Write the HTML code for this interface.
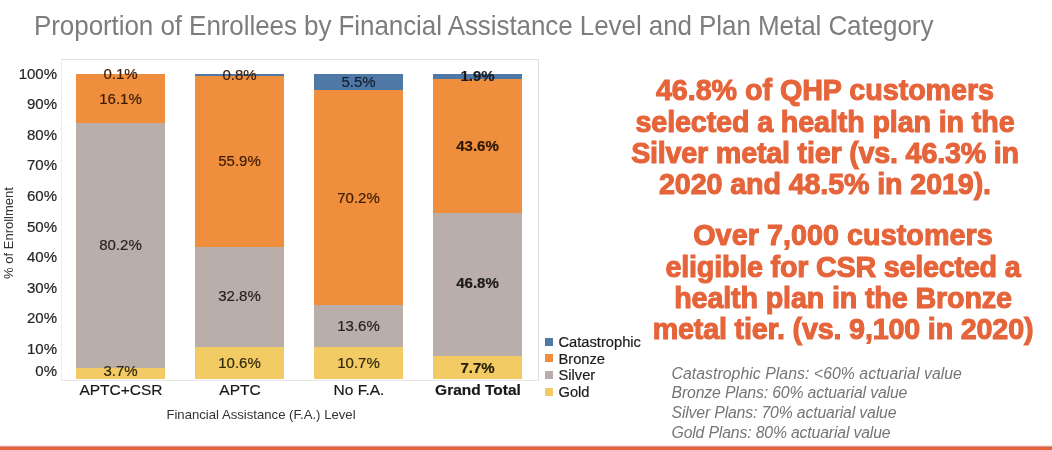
<!DOCTYPE html>
<html><head><meta charset="utf-8">
<style>
html,body{margin:0;padding:0;background:#fff;}
body{width:1052px;height:450px;position:relative;overflow:hidden;font-family:"Liberation Sans",sans-serif;}
.abs{position:absolute;white-space:nowrap;}
#title{left:34px;top:11px;font-size:26px;letter-spacing:-0.07px;color:#7d7d7d;line-height:30px;transform:scaleY(1.07);transform-origin:0 23.7px;}
.seg{position:absolute;}
.yl,.dl,.xl,.lg{-webkit-text-stroke:0.2px currentColor;}
.yl{position:absolute;right:0;font-size:15px;color:#262626;line-height:16px;text-align:right;}
.dl{position:absolute;font-size:15px;color:#1e1e1e;line-height:16px;text-align:center;width:89px;}
.xl{position:absolute;font-size:15.5px;color:#1a1a1a;line-height:16px;text-align:center;width:120px;}
.big{position:absolute;width:500px;text-align:center;font-weight:bold;color:#e5643a;font-size:30.4px;line-height:31.3px;white-space:nowrap;transform:scaleX(0.944);transform-origin:50% 0;-webkit-text-stroke:1.1px #e5643a;}
.big span{display:block;}
.note{position:absolute;left:671.5px;font-style:italic;color:#757575;font-size:15.8px;line-height:19.8px;white-space:nowrap;}
.lg{position:absolute;left:558.5px;font-size:14.7px;color:#1c1c1c;line-height:16px;}
.ls{position:absolute;left:544.5px;width:8px;height:8px;}
</style></head><body>
<div id="title" class="abs">Proportion of Enrollees by Financial Assistance Level and Plan Metal Category</div>

<!-- plot frame -->
<div class="seg" style="left:61px;top:59px;width:476px;height:320px;border:1px solid #dedede;border-left-color:#ececec;border-bottom-color:#e6e6e6;"></div>

<!-- y labels -->
<div style="position:absolute;left:0;top:0;width:57px;height:450px;">
<div class="yl" style="top:66px;">100%</div>
<div class="yl" style="top:96px;">90%</div>
<div class="yl" style="top:127px;">80%</div>
<div class="yl" style="top:157px;">70%</div>
<div class="yl" style="top:188px;">60%</div>
<div class="yl" style="top:219px;">50%</div>
<div class="yl" style="top:249px;">40%</div>
<div class="yl" style="top:280px;">30%</div>
<div class="yl" style="top:310px;">20%</div>
<div class="yl" style="top:341px;">10%</div>
<div class="yl" style="top:363px;">0%</div>
</div>
<div class="abs" style="left:-41px;top:227px;width:100px;text-align:center;font-size:13px;color:#333;transform:rotate(-90deg);line-height:12px;">% of Enrollment</div>

<!-- bar 1 -->
<div class="seg" style="left:76px;top:73.5px;width:89px;height:49.5px;background:#ef8e3c;"></div>
<div class="seg" style="left:76px;top:123px;width:89px;height:245.2px;background:#b9aeaa;"></div>
<div class="seg" style="left:76px;top:368.2px;width:89px;height:11.3px;background:#f2cb65;"></div>
<!-- bar 2 -->
<div class="seg" style="left:195px;top:73.5px;width:89px;height:2.5px;background:#4e79a7;"></div>
<div class="seg" style="left:195px;top:76px;width:89px;height:171px;background:#ef8e3c;"></div>
<div class="seg" style="left:195px;top:247px;width:89px;height:100.4px;background:#b9aeaa;"></div>
<div class="seg" style="left:195px;top:347.1px;width:89px;height:32.4px;background:#f2cb65;"></div>
<!-- bar 3 -->
<div class="seg" style="left:314px;top:73.5px;width:89px;height:16.8px;background:#4e79a7;"></div>
<div class="seg" style="left:314px;top:90.3px;width:89px;height:214.8px;background:#ef8e3c;"></div>
<div class="seg" style="left:314px;top:305.1px;width:89px;height:41.7px;background:#b9aeaa;"></div>
<div class="seg" style="left:314px;top:346.8px;width:89px;height:32.7px;background:#f2cb65;"></div>
<!-- bar 4 -->
<div class="seg" style="left:433px;top:73.5px;width:89px;height:5.8px;background:#4e79a7;"></div>
<div class="seg" style="left:433px;top:79.3px;width:89px;height:133.4px;background:#ef8e3c;"></div>
<div class="seg" style="left:433px;top:212.7px;width:89px;height:143.2px;background:#b9aeaa;"></div>
<div class="seg" style="left:433px;top:355.9px;width:89px;height:23.6px;background:#f2cb65;"></div>

<!-- data labels -->
<div class="dl" style="left:76px;top:66px;color:#3d1c05;">0.1%</div>
<div class="dl" style="left:76px;top:91px;color:#3d1c05;">16.1%</div>
<div class="dl" style="left:76px;top:237px;color:#262220;">80.2%</div>
<div class="dl" style="left:76px;top:362.6px;color:#33290c;">3.7%</div>

<div class="dl" style="left:195px;top:67px;color:#3d1c05;">0.8%</div>
<div class="dl" style="left:195px;top:153px;color:#3d1c05;">55.9%</div>
<div class="dl" style="left:195px;top:288px;color:#262220;">32.8%</div>
<div class="dl" style="left:195px;top:355px;color:#33290c;">10.6%</div>

<div class="dl" style="left:314px;top:74px;color:#14202e;">5.5%</div>
<div class="dl" style="left:314px;top:189.6px;color:#3d1c05;">70.2%</div>
<div class="dl" style="left:314px;top:317.6px;color:#262220;">13.6%</div>
<div class="dl" style="left:314px;top:355px;color:#33290c;">10.7%</div>

<div class="dl" style="left:433px;top:68px;font-weight:bold;color:#1a1a22;">1.9%</div>
<div class="dl" style="left:433px;top:138px;font-weight:bold;color:#2e1404;">43.6%</div>
<div class="dl" style="left:433px;top:275px;font-weight:bold;color:#1c1a19;">46.8%</div>
<div class="dl" style="left:433px;top:360px;font-weight:bold;color:#241d08;">7.7%</div>

<!-- x labels -->
<div class="xl" style="left:61px;top:381.7px;">APTC+CSR</div>
<div class="xl" style="left:180px;top:381.7px;">APTC</div>
<div class="xl" style="left:299px;top:381.7px;">No F.A.</div>
<div class="xl" style="left:418px;top:381.7px;font-weight:bold;">Grand Total</div>
<div class="abs" style="left:111px;top:407.8px;width:300px;text-align:center;font-size:13.15px;color:#333;line-height:14px;">Financial Assistance (F.A.) Level</div>

<!-- legend -->
<div class="ls" style="top:338px;background:#4e79a7;"></div><div class="lg" style="top:334px;">Catastrophic</div>
<div class="ls" style="top:354px;background:#ef8e3c;"></div><div class="lg" style="top:350.5px;">Bronze</div>
<div class="ls" style="top:371px;background:#b9aeaa;"></div><div class="lg" style="top:367px;">Silver</div>
<div class="ls" style="top:388px;background:#f2cb65;"></div><div class="lg" style="top:383.5px;">Gold</div>

<!-- big text -->
<div class="big" style="left:575.2px;top:74.4px;"><span id="l1" style="letter-spacing:-0.05px">46.8% of QHP customers</span><span id="l2" style="letter-spacing:-0.13px">selected a health plan in the</span><span id="l3" style="letter-spacing:-0.21px">Silver metal tier (vs. 46.3% in</span><span id="l4" style="letter-spacing:-0.13px">2020 and 48.5% in 2019).</span></div>
<div class="big" style="left:593px;top:219.4px;"><span id="l5" style="letter-spacing:0.07px">Over 7,000 customers</span><span id="l6" style="letter-spacing:-0.21px">eligible for CSR selected a</span><span id="l7" style="letter-spacing:-0.15px">health plan in the Bronze</span><span id="l8" style="letter-spacing:-0.18px">metal tier. (vs. 9,100 in 2020)</span></div>

<!-- notes -->
<div class="note" style="top:363.6px;"><span style="letter-spacing:0.05px">Catastrophic Plans: &lt;60% actuarial value</span><br><span style="letter-spacing:-0.15px">Bronze Plans: 60% actuarial value</span><br><span style="letter-spacing:-0.16px">Silver Plans: 70% actuarial value</span><br><span style="letter-spacing:-0.16px">Gold Plans: 80% actuarial value</span></div>

<!-- footer bar -->
<div class="seg" style="left:0;top:445px;width:1052px;height:5px;background:linear-gradient(#fbe6e0 0,#fbe6e0 1px,#e39a88 1px,#e39a88 2px,#d6644b 2px,#d6644b 3px,#e6643a 3px);"></div>
</body></html>
